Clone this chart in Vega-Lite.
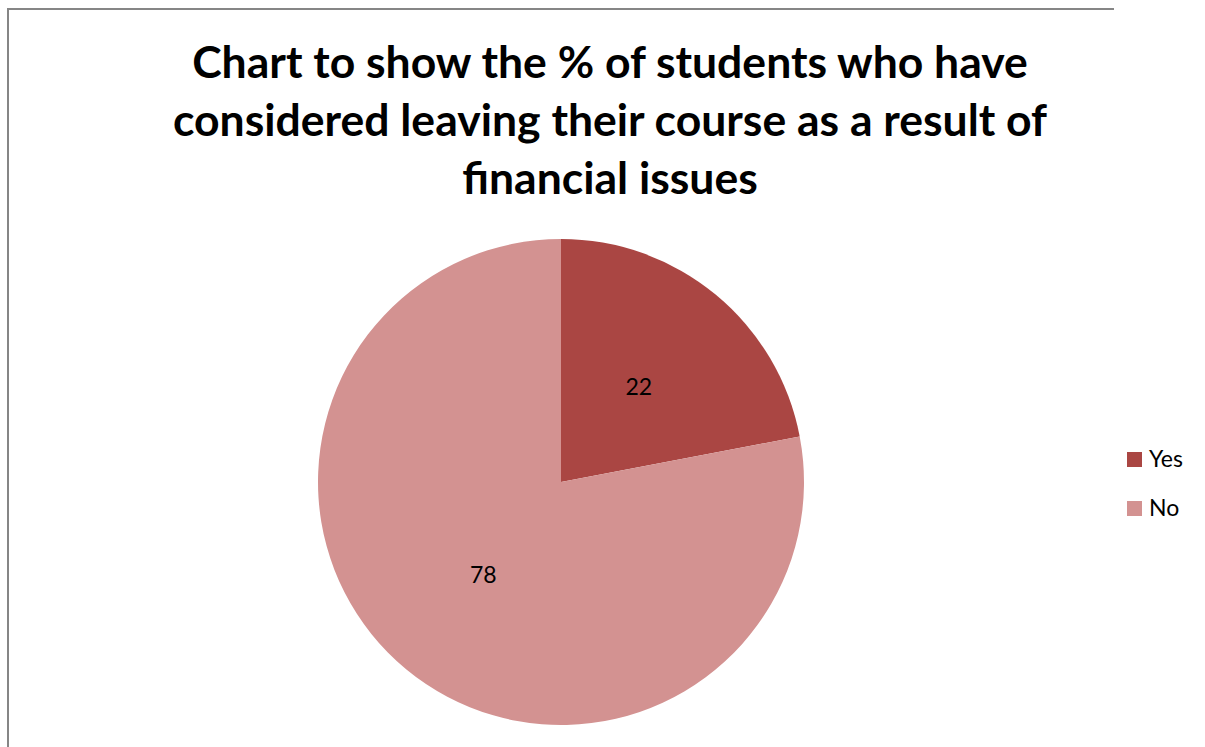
{
  "$schema": "https://vega.github.io/schema/vega-lite/v6.json",
  "autosize": "none",
  "width": 1106,
  "height": 946,
  "padding": {"left": 8, "top": 9, "right": 91, "bottom": 0},
  "background": "white",
  "view": {"stroke": "#868686", "strokeWidth": 2, "strokeDash": [1106, 946, 2052, 1]},
  "title": {
    "text": ["Chart to show the % of students who have", "considered leaving their course as a result of", "financial issues"],
    "font": "Lato",
    "fontSize": 44.5,
    "fontWeight": "bold",
    "color": "black",
    "lineHeight": 58,
    "anchor": "middle",
    "frame": "group",
    "dx": 49,
    "offset": -229,
    "baseline": "alphabetic"
  },
  "data": {
    "values": [
      {"answer": "Yes", "percent": 22, "idx": 1},
      {"answer": "No", "percent": 78, "idx": 2}
    ]
  },
  "encoding": {
    "theta": {"field": "percent", "type": "quantitative", "stack": true},
    "order": {"field": "idx", "type": "quantitative"}
  },
  "layer": [
    {
      "mark": {"type": "arc", "outerRadius": 243},
      "encoding": {
        "color": {
          "field": "answer",
          "type": "nominal",
          "scale": {"domain": ["Yes", "No"], "range": ["#AA4643", "#D39291"]},
          "legend": {"title": null}
        }
      }
    },
    {
      "mark": {"type": "text", "radius": 122, "font": "Lato", "fontSize": 23, "color": "black"},
      "encoding": {
        "detail": {"field": "answer", "type": "nominal"},
        "text": {"field": "percent", "type": "quantitative"}
      }
    }
  ],
  "config": {
    "legend": {
      "orient": "none",
      "legendX": 1115,
      "legendY": 439,
      "padding": 0,
      "symbolType": "square",
      "symbolSize": 225,
      "symbolStrokeWidth": 0,
      "labelFont": "Lato",
      "labelFontSize": 23,
      "labelColor": "black",
      "labelOffset": 3,
      "rowPadding": 25
    }
  }
}
